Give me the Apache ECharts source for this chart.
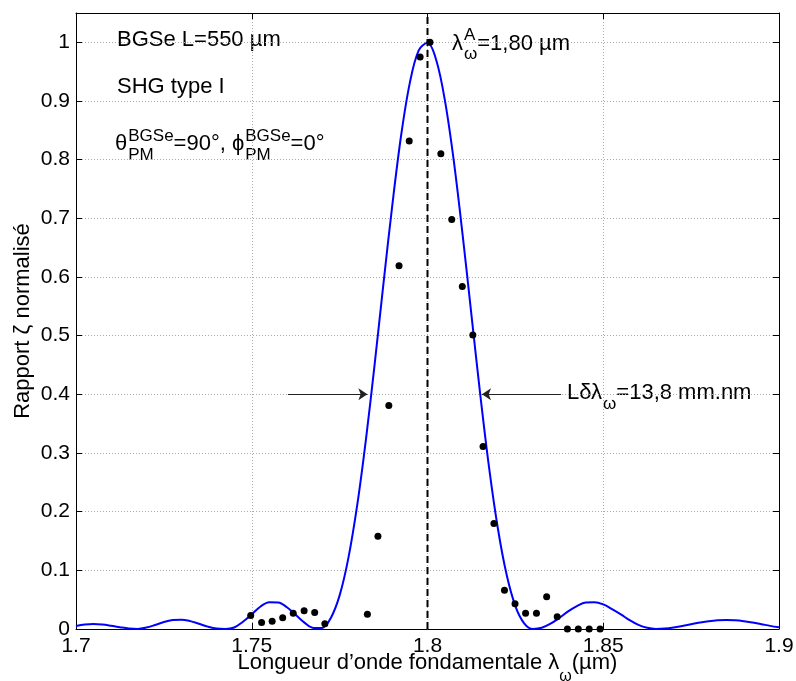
<!DOCTYPE html>
<html><head><meta charset="utf-8">
<script src="https://cdn.jsdelivr.net/npm/echarts@6/dist/echarts.min.js"></script>
<style>html,body{margin:0;padding:0;background:#fff}#c{width:796px;height:681px}</style>
</head><body><div id="c"></div>
<script>
// ---- data ----
const curveX = [1.7000,1.7025,1.7050,1.7075,1.7100,1.7125,1.7150,1.7175,1.7200,1.7225,1.7250,1.7275,1.7300,1.7325,1.7350,1.7375,1.7400,1.7425,1.7450,1.7475,1.7500,1.7525,1.7550,1.7575,1.7600,1.7625,1.7650,1.7675,1.7700,1.7725,1.7750,1.7775,1.7800,1.7825,1.7850,1.7875,1.7900,1.7925,1.7950,1.7975,1.8000,1.8025,1.8050,1.8075,1.8100,1.8125,1.8150,1.8175,1.8200,1.8225,1.8250,1.8275,1.8300,1.8325,1.8350,1.8375,1.8400,1.8425,1.8450,1.8475,1.8500,1.8525,1.8550,1.8575,1.8600,1.8625,1.8650,1.8675,1.8700,1.8725,1.8750,1.8775,1.8800,1.8825,1.8850,1.8875,1.8900,1.8925,1.8950,1.8975,1.9000];
const curveY = [0.0050,0.0078,0.0085,0.0075,0.0054,0.0030,0.0009,0.0001,0.0024,0.0068,0.0118,0.0152,0.0159,0.0134,0.0089,0.0040,0.0007,0.0001,0.0026,0.0123,0.0250,0.0384,0.0457,0.0452,0.0371,0.0241,0.0108,0.0019,0.0019,0.0189,0.0573,0.1212,0.2110,0.3238,0.4533,0.5904,0.7231,0.8416,0.9318,0.9863,0.9991,0.9694,0.8993,0.7971,0.6714,0.5355,0.4000,0.2760,0.1722,0.0928,0.0391,0.0097,0.0001,0.0020,0.0090,0.0190,0.0300,0.0390,0.0452,0.0458,0.0420,0.0340,0.0250,0.0150,0.0070,0.0020,0.0001,0.0008,0.0026,0.0052,0.0081,0.0109,0.0133,0.0149,0.0155,0.0150,0.0134,0.0110,0.0082,0.0053,0.0028];
const dotX = [1.7497,1.7528,1.7558,1.7588,1.7618,1.7649,1.7679,1.7708,1.7829,1.7859,1.7890,1.7919,1.7948,1.7979,1.8007,1.8038,1.8069,1.8099,1.8129,1.8158,1.8189,1.8219,1.8249,1.8279,1.8310,1.8339,1.8369,1.8398,1.8429,1.8460,1.8491];
const dotY = [0.023,0.011,0.013,0.019,0.027,0.031,0.028,0.009,0.025,0.158,0.381,0.619,0.832,0.975,1.000,0.810,0.698,0.584,0.501,0.311,0.180,0.066,0.043,0.027,0.027,0.055,0.021,0.000,0.000,0.000,0.000];
const peakWavelength = 1.80;
const arrowLevel = 0.40;
const leftArrowX = [1.7603, 1.7829];
const rightArrowX = [1.8380, 1.8155];
const xMin = 1.7, xMax = 1.9, xStep = 0.05;
const yMin = 0, yMax = 1.05, yStep = 0.1;

// ---- chart ----
const FONT = '"Liberation Sans", Arial, Helvetica, sans-serif';
const chart = echarts.init(document.getElementById('c'), null, {renderer: 'canvas'});
const curveData = curveX.map((x, i) => [x, curveY[i]]);
const dotData = dotX.map((x, i) => [x, dotY[i]]);

const ctx = document.createElement('canvas').getContext('2d');
function tw(t, s) { ctx.font = s + 'px ' + FONT; return ctx.measureText(t).width; }
function txt(x, baseline, t, s) {
  return {type: 'text', x: x, y: baseline - 0.2 * s, silent: true,
    style: {text: t, font: s + 'px ' + FONT, fill: '#000', align: 'left', verticalAlign: 'middle'}};
}
function line(x, baseline, parts, size, small, supOff, subOff) {
  const els = [];
  let cx = x;
  parts.forEach(p => {
    if (typeof p === 'string') {
      els.push(txt(cx, baseline, p, size));
      cx += tw(p, size);
    } else {
      let w = 0;
      if (p.sup) { els.push(txt(cx + 1, baseline - supOff, p.sup, small)); w = Math.max(w, tw(p.sup, small) + 1); }
      if (p.sub) { els.push(txt(cx + 1, baseline + subOff, p.sub, small)); w = Math.max(w, tw(p.sub, small) + 1); }
      cx += w;
    }
  });
  return els;
}
const graphics = [].concat(
  line(117, 44, ['BGSe L=550 µm'], 22, 17, 8, 11),
  line(117, 91, ['SHG type I'], 22, 17, 8, 11),
  line(115, 148, ['θ', {sup: 'BGSe', sub: 'PM'}, '=90°, ϕ', {sup: 'BGSe', sub: 'PM'}, '=0°'], 22, 17, 8, 11),
  line(452, 48, ['λ', {sup: 'A', sub: 'ω'}, '=1,80 µm'], 22, 17, 9, 10),
  line(567, 397, ['Lδλ', {sub: 'ω'}, '=13,8 mm.nm'], 22, 17, 8, 11)
);

const gridLine = {show: true, lineStyle: {color: '#aaaaaa', width: 1, type: [1, 2]}};
const axisLineStyle = {lineStyle: {color: '#000', width: 1}};
const tickStyle = {show: true, inside: true, length: 6, lineStyle: {color: '#000', width: 1}};

chart.setOption({
  animation: false,
  backgroundColor: '#fff',
  textStyle: {fontFamily: FONT},
  grid: {left: 76, right: 17, top: 13, bottom: 52, containLabel: false, outerBoundsMode: 'none'},
  xAxis: [{
    type: 'value', min: xMin, max: xMax, interval: xStep, position: 'bottom',
    axisLine: Object.assign({show: true, onZero: false}, axisLineStyle),
    axisTick: tickStyle, splitLine: gridLine,
    axisLabel: {color: '#000', fontSize: 21, fontFamily: FONT, margin: 7},
    name: 'Longueur d’onde fondamentale λ{sub|ω}(µm)',
    nameLocation: 'middle', nameGap: 12, nameMoveOverlap: false,
    nameTextStyle: {color: '#000', fontSize: 22, fontFamily: FONT, lineHeight: 44,
      rich: {sub: {fontSize: 16, fontFamily: FONT, color: '#000', lineHeight: 16, verticalAlign: 'bottom'}}}
  }, {
    type: 'value', min: xMin, max: xMax, interval: xStep, position: 'top',
    axisLine: Object.assign({show: true, onZero: false}, axisLineStyle),
    axisTick: tickStyle, splitLine: {show: false}, axisLabel: {show: false}
  }],
  yAxis: [{
    type: 'value', min: yMin, max: yMax, interval: yStep, position: 'left',
    axisLine: Object.assign({show: true, onZero: false}, axisLineStyle),
    axisTick: tickStyle, splitLine: gridLine,
    axisLabel: {color: '#000', fontSize: 21, fontFamily: FONT, margin: 6,
      formatter: v => (v > 1.0001 ? '' : String(+v.toFixed(2)))},
    name: 'Rapport ζ normalisé', nameLocation: 'middle', nameGap: 42, nameRotate: 90, nameMoveOverlap: false,
    nameTextStyle: {color: '#000', fontSize: 22, fontFamily: FONT}
  }, {
    type: 'value', min: yMin, max: yMax, interval: yStep, position: 'right',
    axisLine: Object.assign({show: true, onZero: false}, axisLineStyle),
    axisTick: tickStyle, splitLine: {show: false}, axisLabel: {show: false}
  }],
  series: [{
    type: 'line', name: 'dashed', data: [[peakWavelength, yMin], [peakWavelength, yMax]],
    symbol: 'none', lineStyle: {color: '#000', width: 2, type: [7, 4]}, silent: true, z: 2
  }, {
    type: 'line', name: 'theory', data: curveData, smooth: 0.35, symbol: 'none',
    lineStyle: {color: '#0000ff', width: 2}, z: 3, silent: true
  }, {
    type: 'scatter', name: 'exp', data: dotData, symbol: 'circle', symbolSize: 7,
    itemStyle: {color: '#000', opacity: 1}, z: 4, silent: true,
    markLine: {
      silent: true, symbol: ['none', 'arrow'], symbolSize: 9, animation: false,
      label: {show: false},
      lineStyle: {color: '#222', width: 1, type: 'solid'},
      data: [
        [{coord: [leftArrowX[0], arrowLevel]}, {coord: [leftArrowX[1], arrowLevel]}],
        [{coord: [rightArrowX[0], arrowLevel]}, {coord: [rightArrowX[1], arrowLevel]}]
      ]
    }
  }],
  graphic: graphics
});
</script></body></html>
